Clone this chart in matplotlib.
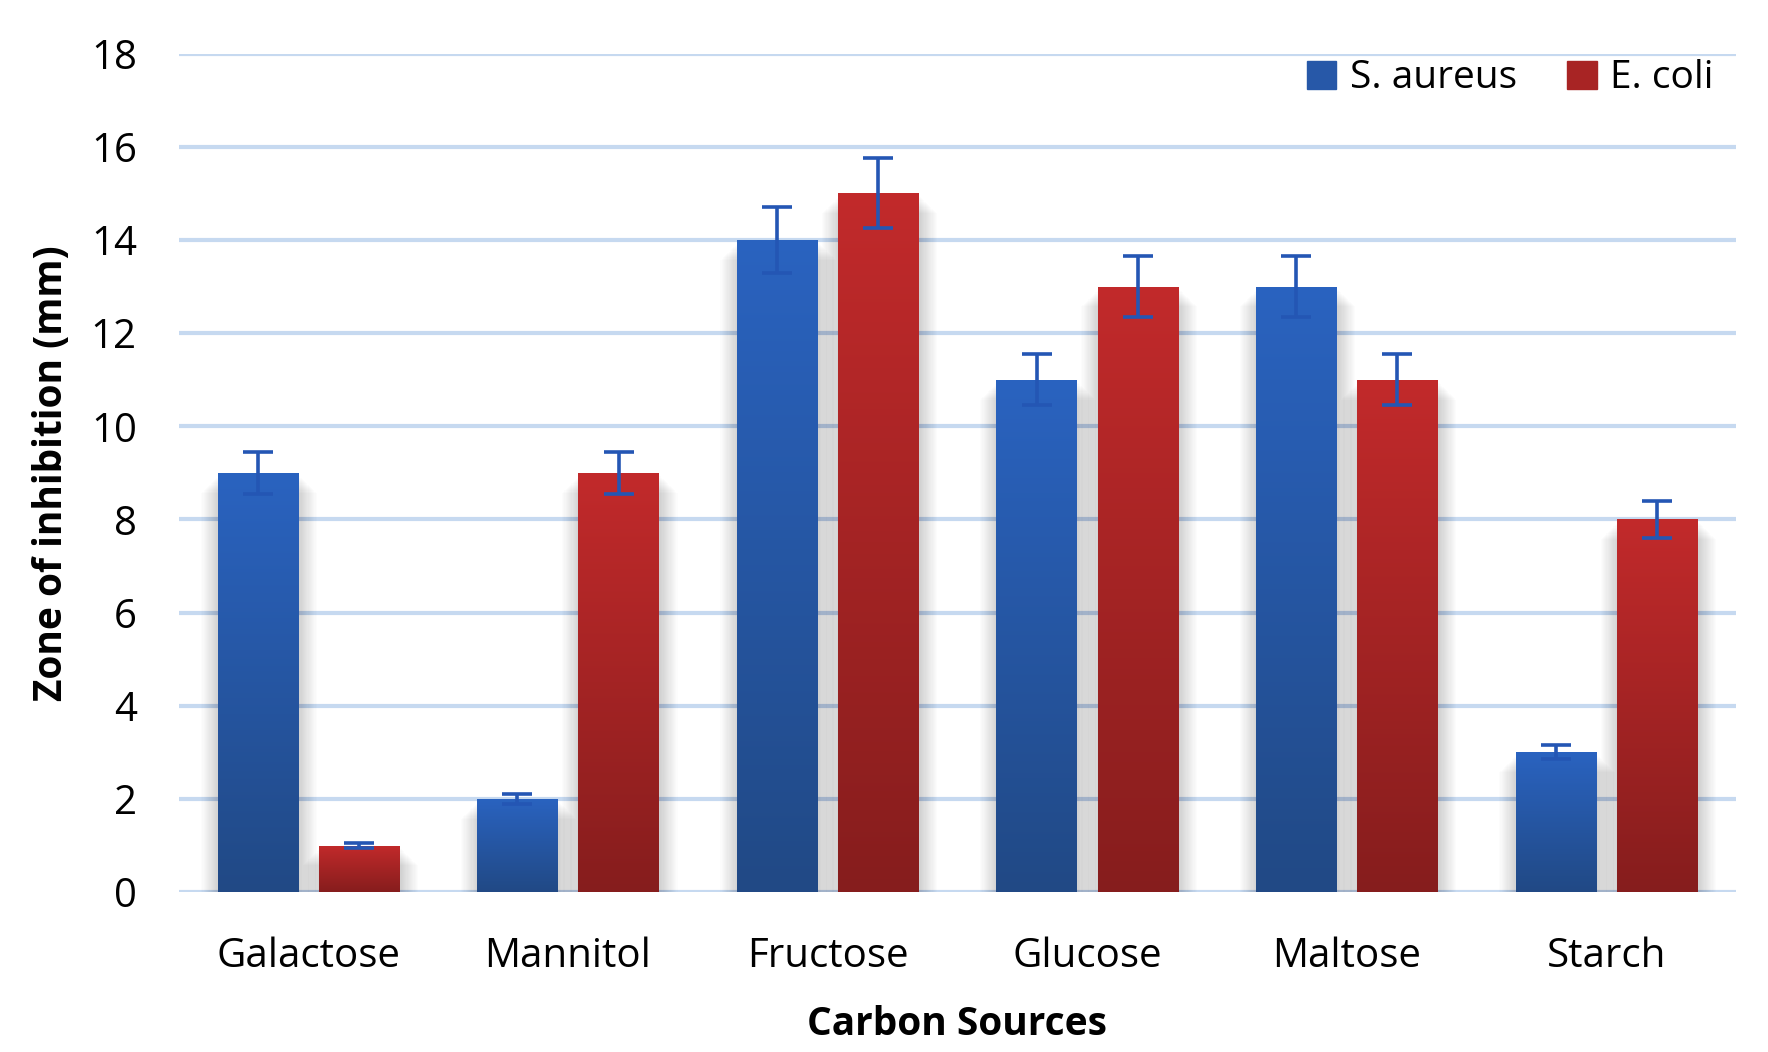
import matplotlib.pyplot as plt
import numpy as np
from matplotlib.patches import Patch

sources = ["Galactose", "Mannitol", "Fructose", "Glucose", "Maltose", "Starch"]
s_aureus = [9, 2, 14, 11, 13, 3]
e_coli = [1, 9, 15, 13, 11, 8]
s_aureus_err = [0.45, 0.1, 0.7, 0.55, 0.65, 0.15]
e_coli_err = [0.05, 0.45, 0.75, 0.65, 0.55, 0.4]

plt.rcParams["font.family"] = ["Open Sans", "DejaVu Sans"]

blue_top, blue_bottom = "#2a63c0", "#214985"
red_top, red_bottom = "#c22a2b", "#861d1d"
err_color = "#2456b4"


def gradient_fill(ax, bars, top, bottom):
    c1 = np.array(plt.matplotlib.colors.to_rgb(top))
    c2 = np.array(plt.matplotlib.colors.to_rgb(bottom))
    t = np.linspace(0, 1, 256)[:, None]
    img = (c1 * (1 - t) + c2 * t)[:, None, :]
    for b in bars:
        x, y = b.get_x(), b.get_y()
        w, h = b.get_width(), b.get_height()
        im = ax.imshow(img, extent=[x, x + w, y, y + h], aspect="auto",
                       zorder=b.get_zorder(), origin="upper")
        im.set_clip_path(b)


fig = plt.figure(figsize=(17.68, 10.52), dpi=100)
ax = fig.add_axes([0.101, 0.152, 0.881, 0.797])

x = np.arange(len(sources))
w = 0.31
off = 0.195

# soft shadows, fading outward and slightly below the bar top
for k in range(1, 16):
    for pos, vals in ((x - off, s_aureus), (x + off, e_coli)):
        h = np.clip(np.array(vals) - 0.05 - 0.025 * k, 0, None)
        ax.bar(pos + 0.005, h, w + 0.009 * k, color="black", alpha=0.011,
               zorder=2, linewidth=0)

b1 = ax.bar(x - off, s_aureus, w, color=blue_top, zorder=3, linewidth=0)
b2 = ax.bar(x + off, e_coli, w, color=red_top, zorder=3, linewidth=0)
gradient_fill(ax, b1, blue_top, blue_bottom)
gradient_fill(ax, b2, red_top, red_bottom)

ax.errorbar(x - off, s_aureus, yerr=s_aureus_err, fmt="none", ecolor=err_color,
            elinewidth=2.6, capsize=11, capthick=2.6, zorder=4)
ax.errorbar(x + off, e_coli, yerr=e_coli_err, fmt="none", ecolor=err_color,
            elinewidth=2.6, capsize=11, capthick=2.6, zorder=4)

ax.set_xlim(-0.5, len(sources) - 0.5)
ax.set_ylim(0, 18)
ax.set_yticks(range(0, 19, 2))
ax.set_xticks(x)
ax.set_xticklabels(sources)
ax.grid(axis="y", color="#c6d9f0", linewidth=3, zorder=0)
ax.set_axisbelow(True)
for s in ax.spines.values():
    s.set_visible(False)
ax.tick_params(length=0, labelsize=29)
ax.tick_params(axis="x", pad=32)
ax.tick_params(axis="y", pad=30)

ax.set_xlabel("Carbon Sources", fontsize=28, fontweight="bold", labelpad=20)
ax.set_ylabel("Zone of inhibition (mm)", fontsize=28, fontweight="bold", labelpad=14)

handles = [Patch(color="#2758a8", label="S. aureus"),
           Patch(color="#a82424", label="E. coli")]
ax.legend(handles=handles, loc="upper right", ncol=2, frameon=False, fontsize=28,
          handlelength=0.75, handleheight=0.75, handletextpad=0.35, columnspacing=1.3,
          bbox_to_anchor=(1.008, 1.035))

fig.savefig("out.png", dpi=100, facecolor="white")
